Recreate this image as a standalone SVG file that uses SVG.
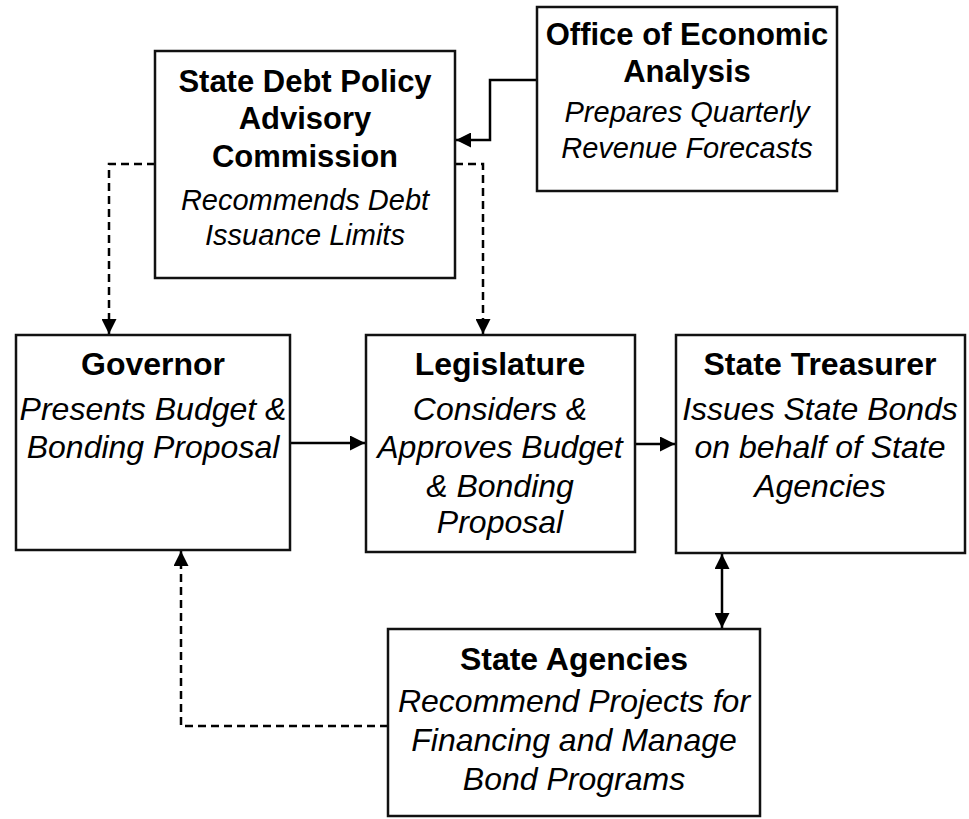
<svg xmlns="http://www.w3.org/2000/svg" width="969" height="819" viewBox="0 0 969 819">
  <defs>
    <style>
      .box { fill: #ffffff; stroke: #111111; stroke-width: 2.5; }
      .title { font-family: "Liberation Sans", Arial, sans-serif; font-weight: bold; font-size: 31px; fill: #000000; text-anchor: middle; }
      .desc { font-family: "Liberation Sans", Arial, sans-serif; font-style: italic; font-size: 29px; fill: #000000; text-anchor: middle; }
      .lg .title, .lg .desc { font-size: 32px; }
      .link { fill: none; stroke: #000000; stroke-width: 2.5; }
      .dashed { stroke-dasharray: 8 5; }
    </style>
    <marker id="arrow" viewBox="0 0 10 10" refX="10" refY="5" markerWidth="15" markerHeight="15" markerUnits="userSpaceOnUse" orient="auto-start-reverse">
      <path d="M0,0 L10,5 L0,10 Z" fill="#000000"/>
    </marker>
  </defs>
  <rect width="969" height="819" fill="#ffffff"/>

  <!-- connectors -->
  <g id="connectors">
    <path class="link" d="M537,80 H490 V140 H456" marker-end="url(#arrow)"/>
    <path class="link dashed" d="M155,164 H109 V334" marker-end="url(#arrow)"/>
    <path class="link dashed" d="M455,164 H483 V334" marker-end="url(#arrow)"/>
    <path class="link" d="M290,443 H365" marker-end="url(#arrow)"/>
    <path class="link" d="M635,444 H675" marker-end="url(#arrow)"/>
    <path class="link" d="M722,554 V628" marker-start="url(#arrow)" marker-end="url(#arrow)"/>
    <path class="link dashed" d="M388,726 H181 V551" marker-end="url(#arrow)"/>
  </g>

  <g id="debt-commission">
    <rect class="box" x="155" y="51" width="300" height="227"/>
    <text class="title" x="305" y="92">State Debt Policy</text>
    <text class="title" x="305" y="129">Advisory</text>
    <text class="title" x="305" y="167">Commission</text>
    <text class="desc" x="305" y="210">Recommends Debt</text>
    <text class="desc" x="305" y="245">Issuance Limits</text>
  </g>

  <g id="economic-analysis">
    <rect class="box" x="537" y="7" width="300" height="184"/>
    <text class="title" x="687" y="45">Office of Economic</text>
    <text class="title" x="687" y="82">Analysis</text>
    <text class="desc" x="687" y="122">Prepares Quarterly</text>
    <text class="desc" x="687" y="158">Revenue Forecasts</text>
  </g>

  <g id="governor" class="lg">
    <rect class="box" x="16" y="335" width="274" height="215"/>
    <text class="title" x="153" y="375">Governor</text>
    <text class="desc" x="153" y="420">Presents Budget &amp;</text>
    <text class="desc" x="153" y="458">Bonding Proposal</text>
  </g>

  <g id="legislature" class="lg">
    <rect class="box" x="366" y="335" width="269" height="217"/>
    <text class="title" x="500" y="375">Legislature</text>
    <text class="desc" x="500" y="420">Considers &amp;</text>
    <text class="desc" x="500" y="458">Approves Budget</text>
    <text class="desc" x="500" y="497">&amp; Bonding</text>
    <text class="desc" x="500" y="533">Proposal</text>
  </g>

  <g id="treasurer" class="lg">
    <rect class="box" x="676" y="335" width="289" height="218"/>
    <text class="title" x="820" y="375">State Treasurer</text>
    <text class="desc" x="820" y="420">Issues State Bonds</text>
    <text class="desc" x="820" y="458">on behalf of State</text>
    <text class="desc" x="820" y="497">Agencies</text>
  </g>

  <g id="agencies" class="lg">
    <rect class="box" x="388" y="629" width="372" height="187"/>
    <text class="title" x="574" y="670">State Agencies</text>
    <text class="desc" x="574" y="712">Recommend Projects for</text>
    <text class="desc" x="574" y="751">Financing and Manage</text>
    <text class="desc" x="574" y="790">Bond Programs</text>
  </g>
</svg>
